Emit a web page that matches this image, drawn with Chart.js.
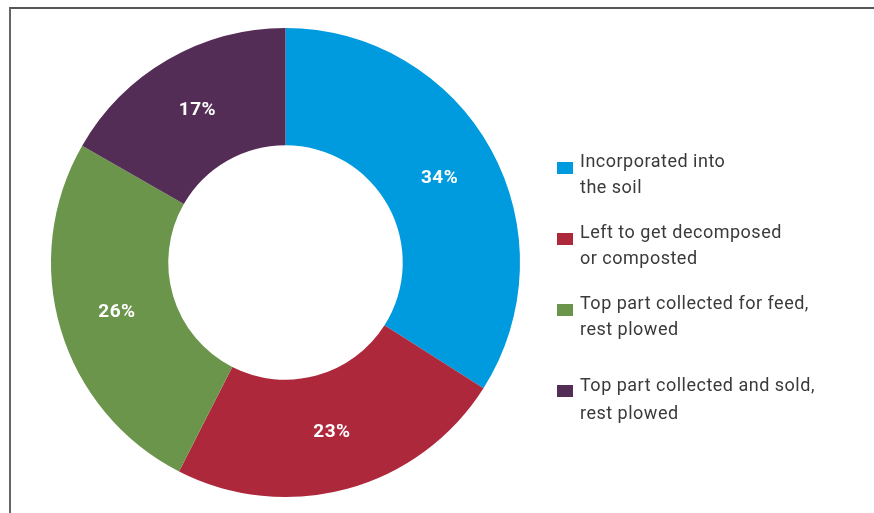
<!DOCTYPE html>
<html lang="en">
<head>
    <meta charset="UTF-8">
    <title>Crop residue use</title>
    <script src="https://cdn.jsdelivr.net/npm/chart.js"></script>
    <style>
        body {
            margin: 0;
            padding: 0;
            background-color: #fff;
            font-family: Roboto, Arial, sans-serif;
        }

        #wrap {
            position: relative;
            width: 874px;
            height: 513px;
            overflow: hidden;
        }

        #frame {
            position: absolute;
            left: 9px;
            top: 7px;
            width: 880px;
            height: 520px;
            border-top: 2px solid #555;
            border-left: 2px solid #666;
        }

        canvas {
            position: absolute;
            left: 0;
            top: 0;
        }

        #legend {
            position: absolute;
            left: 557px;
            top: 148px;
            color: #3a3a3a;
            font-size: 18px;
            letter-spacing: 0.5px;
            white-space: nowrap;
        }

        .item {
            position: relative;
            padding-left: 23px;
            line-height: 26px;
            margin-bottom: 19px;
        }

        .item:nth-child(3) {
            margin-bottom: 29px;
        }

        .item:last-child {
            line-height: 28px;
        }

        .swatch {
            position: absolute;
            left: 0;
            top: 14px;
            width: 16px;
            height: 12px;
        }
    </style>
</head>
<body>
    <div id="wrap">
        <div id="frame"></div>
        <canvas id="donut" width="874" height="513"></canvas>
        <div id="legend"></div>
    </div>
    <script>
        // dados (fatias; rótulos arredondados)
        const categories = [
            ['Incorporated into', 'the soil'],
            ['Left to get decomposed', 'or composted'],
            ['Top part collected for feed,', 'rest plowed'],
            ['Top part collected and sold,', 'rest plowed']
        ];
        const shares = [34, 23.5, 25.8, 16.7];
        const shareLabels = ['34%', '23%', '26%', '17%'];
        const colors = ['#009ADE', '#AE283C', '#6B954B', '#532D55'];

        // legenda em HTML
        const legend = document.getElementById('legend');
        categories.forEach((lines, i) => {
            const item = document.createElement('div');
            item.className = 'item';
            item.innerHTML = `<span class="swatch" style="background:${colors[i]}"></span>${lines.join('<br>')}`;
            legend.appendChild(item);
        });

        // rótulos de porcentagem no meio de cada fatia
        const sliceLabels = {
            id: 'sliceLabels',
            afterDatasetsDraw(chart) {
                const ctx = chart.ctx;
                const meta = chart.getDatasetMeta(0);
                ctx.save();
                ctx.fillStyle = '#fff';
                ctx.font = 'bold 19px Roboto, Arial, sans-serif';
                ctx.letterSpacing = '0.5px';
                ctx.textAlign = 'center';
                ctx.textBaseline = 'middle';
                meta.data.forEach((arc, i) => {
                    const p = arc.tooltipPosition();
                    ctx.fillText(shareLabels[i], p.x, p.y);
                });
                ctx.restore();
            }
        };

        new Chart(document.getElementById('donut').getContext('2d'), {
            type: 'doughnut',
            data: {
                labels: categories.map(l => l.join(' ')),
                datasets: [{
                    data: shares,
                    backgroundColor: colors,
                    borderWidth: 0
                }]
            },
            options: {
                responsive: false,
                animation: false,
                cutout: '50%',
                layout: {
                    padding: { left: 51, right: 354, top: 28, bottom: 16 }
                },
                plugins: {
                    legend: { display: false },
                    tooltip: { enabled: false }
                }
            },
            plugins: [sliceLabels]
        });
    </script>
</body>
</html>
